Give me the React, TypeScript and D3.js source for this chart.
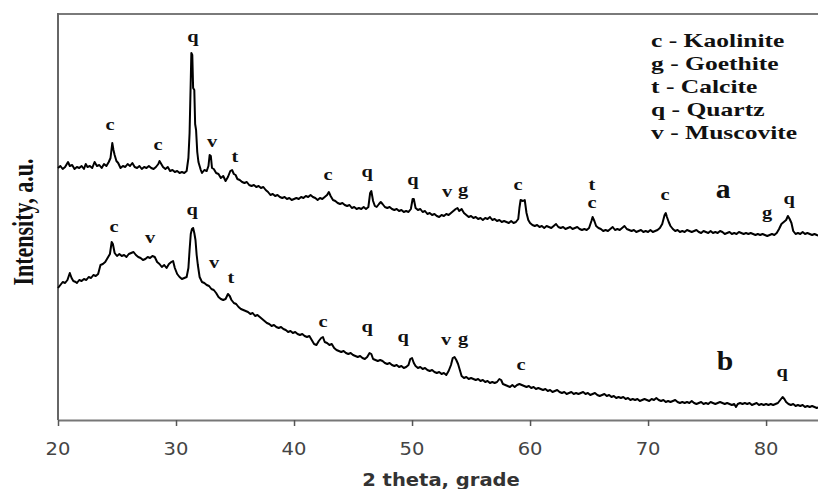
import React, { useEffect, useRef } from 'react';
import * as d3 from 'd3';

// pattern a (upper curve), [2theta, intensity a.u.]
const traceA: [number, number][] = [
  [20.0, 252], [20.2, 254], [20.4, 251], [20.6, 253], [20.85, 258], [21.0, 254], [21.2, 255], [21.4, 251],
  [21.6, 253], [21.8, 252], [22.0, 254], [22.2, 251], [22.35, 256], [22.5, 253], [22.7, 254], [22.9, 252],
  [23.1, 258], [23.3, 254], [23.5, 255], [23.7, 252], [23.9, 256], [24.1, 254], [24.3, 258], [24.45, 262],
  [24.6, 277], [24.7, 270], [24.8, 265], [24.95, 259], [25.1, 257], [25.3, 252], [25.5, 254], [25.7, 253],
  [25.9, 256], [26.1, 254], [26.3, 257], [26.5, 253], [26.7, 252], [26.9, 254], [27.1, 251], [27.3, 253],
  [27.5, 252], [27.7, 254], [27.9, 252], [28.1, 251], [28.3, 253], [28.5, 256], [28.6, 259], [28.75, 256],
  [28.9, 253], [29.1, 251], [29.3, 253], [29.5, 249], [29.7, 250], [29.9, 248], [30.1, 249], [30.3, 247],
  [30.5, 248], [30.7, 247], [30.9, 249], [31.05, 262], [31.15, 287], [31.25, 340], [31.3, 367], [31.38, 365],
  [31.45, 332], [31.55, 330], [31.62, 296], [31.7, 290], [31.8, 268], [31.9, 258], [32.0, 254], [32.1, 250],
  [32.2, 247], [32.4, 250], [32.6, 249], [32.75, 254], [32.85, 265], [32.95, 264], [33.05, 252], [33.2, 251],
  [33.4, 247], [33.6, 246], [33.8, 242], [34.0, 244], [34.2, 239], [34.4, 243], [34.6, 249], [34.75, 250],
  [34.9, 246], [35.05, 245], [35.2, 241], [35.4, 240], [35.6, 238], [35.8, 237], [36.0, 238], [36.2, 235],
  [36.4, 234], [36.6, 235], [36.8, 233], [37.0, 234], [37.2, 232], [37.4, 233], [37.6, 230], [37.8, 228],
  [38.0, 225], [38.2, 226], [38.4, 224], [38.6, 225], [38.8, 223], [39.0, 222], [39.2, 223], [39.4, 221],
  [39.6, 222], [39.8, 220], [40.0, 221], [40.2, 222], [40.4, 221], [40.6, 223], [40.8, 222], [41.0, 224],
  [41.2, 223], [41.4, 225], [41.6, 223], [41.8, 222], [42.0, 220], [42.2, 222], [42.4, 221], [42.6, 223],
  [42.8, 225], [42.95, 228], [43.1, 224], [43.3, 220], [43.5, 219], [43.7, 217], [43.9, 216], [44.1, 217],
  [44.3, 215], [44.5, 214], [44.7, 215], [44.9, 212], [45.1, 213], [45.3, 211], [45.5, 212], [45.7, 211],
  [45.9, 213], [46.1, 211], [46.3, 213], [46.45, 227], [46.55, 229], [46.7, 219], [46.85, 214], [47.0, 213],
  [47.2, 216], [47.35, 218], [47.5, 216], [47.7, 213], [47.9, 212], [48.1, 213], [48.3, 211], [48.5, 210],
  [48.7, 211], [48.9, 209], [49.1, 210], [49.3, 208], [49.5, 209], [49.7, 208], [49.9, 211], [50.05, 221],
  [50.15, 221], [50.3, 212], [50.5, 210], [50.7, 211], [50.9, 208], [51.1, 209], [51.3, 206], [51.5, 207],
  [51.7, 205], [51.9, 206], [52.1, 204], [52.3, 203], [52.5, 205], [52.7, 204], [52.9, 206], [53.1, 205],
  [53.3, 207], [53.5, 209], [53.7, 211], [53.85, 212], [54.0, 209], [54.2, 211], [54.4, 207], [54.6, 205],
  [54.8, 203], [55.0, 204], [55.2, 202], [55.4, 203], [55.6, 201], [55.8, 202], [56.0, 200], [56.2, 202],
  [56.4, 201], [56.6, 203], [56.8, 200], [57.0, 201], [57.2, 199], [57.4, 200], [57.6, 198], [57.8, 199],
  [58.0, 198], [58.2, 197], [58.4, 199], [58.6, 197], [58.8, 198], [59.0, 201], [59.1, 212], [59.2, 220],
  [59.4, 219], [59.55, 220], [59.7, 207], [59.85, 200], [60.0, 197], [60.2, 195], [60.4, 194], [60.6, 195],
  [60.8, 193], [61.0, 194], [61.2, 192], [61.4, 194], [61.6, 193], [61.8, 192], [62.0, 194], [62.2, 196],
  [62.4, 193], [62.6, 192], [62.8, 193], [63.0, 191], [63.2, 192], [63.4, 193], [63.6, 191], [63.8, 192],
  [64.0, 193], [64.2, 191], [64.4, 190], [64.6, 191], [64.8, 190], [65.0, 192], [65.2, 199], [65.3, 203],
  [65.45, 199], [65.6, 194], [65.8, 192], [66.0, 191], [66.2, 189], [66.4, 190], [66.6, 189], [66.8, 191],
  [67.0, 193], [67.2, 190], [67.4, 191], [67.6, 190], [67.8, 192], [68.0, 194], [68.2, 191], [68.4, 190],
  [68.6, 189], [68.8, 190], [69.0, 188], [69.2, 189], [69.4, 190], [69.6, 188], [69.8, 189], [70.0, 188],
  [70.2, 190], [70.4, 188], [70.6, 189], [70.8, 190], [71.0, 192], [71.2, 196], [71.4, 205], [71.5, 207],
  [71.6, 203], [71.75, 198], [71.9, 194], [72.1, 191], [72.3, 189], [72.5, 190], [72.7, 188], [72.9, 189],
  [73.1, 188], [73.3, 190], [73.5, 189], [73.7, 188], [73.9, 189], [74.1, 190], [74.3, 188], [74.5, 187],
  [74.7, 189], [74.9, 188], [75.1, 187], [75.3, 189], [75.5, 187], [75.7, 188], [75.9, 187], [76.1, 189],
  [76.3, 188], [76.5, 186], [76.7, 187], [76.9, 188], [77.1, 186], [77.3, 187], [77.5, 186], [77.7, 188],
  [77.9, 187], [78.1, 186], [78.3, 187], [78.5, 186], [78.7, 187], [78.9, 186], [79.1, 185], [79.3, 186],
  [79.5, 185], [79.7, 186], [79.9, 185], [80.1, 184], [80.3, 185], [80.5, 186], [80.7, 185], [80.9, 187],
  [81.1, 191], [81.3, 196], [81.5, 198], [81.7, 200], [81.85, 204], [82.0, 201], [82.15, 197], [82.3, 189],
  [82.5, 186], [82.7, 187], [82.9, 186], [83.1, 188], [83.3, 186], [83.5, 187], [83.7, 186], [83.9, 185],
  [84.1, 186], [84.3, 185], [84.5, 184],
];

// pattern b (lower curve)
const traceB: [number, number][] = [
  [20.0, 132], [20.2, 135], [20.4, 138], [20.6, 137], [20.8, 140], [21.0, 147], [21.15, 142], [21.3, 139],
  [21.5, 138], [21.6, 137], [21.8, 140], [22.0, 139], [22.2, 141], [22.4, 140], [22.6, 143], [22.8, 142],
  [23.0, 145], [23.2, 144], [23.4, 146], [23.6, 155], [23.8, 156], [24.0, 158], [24.2, 162], [24.4, 166],
  [24.55, 178], [24.65, 176], [24.8, 167], [25.0, 164], [25.2, 166], [25.4, 164], [25.6, 165], [25.8, 163],
  [26.0, 166], [26.2, 167], [26.4, 168], [26.6, 165], [26.8, 163], [27.0, 162], [27.2, 160], [27.4, 161],
  [27.6, 163], [27.8, 162], [28.0, 164], [28.2, 163], [28.4, 158], [28.6, 156], [28.8, 153], [29.0, 155],
  [29.2, 152], [29.4, 156], [29.6, 158], [29.75, 159], [29.9, 152], [30.1, 146], [30.3, 143], [30.5, 141],
  [30.7, 142], [30.9, 143], [31.05, 152], [31.15, 170], [31.25, 186], [31.35, 191], [31.45, 192], [31.55, 187],
  [31.65, 180], [31.75, 165], [31.85, 155], [32.0, 143], [32.2, 138], [32.4, 137], [32.6, 135], [32.8, 134],
  [33.0, 131], [33.2, 130], [33.4, 127], [33.6, 123], [33.8, 121], [34.0, 120], [34.2, 121], [34.4, 126],
  [34.55, 124], [34.7, 120], [34.9, 117], [35.1, 116], [35.3, 113], [35.5, 111], [35.7, 110], [35.9, 109],
  [36.1, 108], [36.3, 106], [36.5, 107], [36.7, 104], [36.9, 105], [37.1, 103], [37.3, 101], [37.5, 99],
  [37.7, 97], [37.9, 96], [38.1, 94], [38.3, 95], [38.5, 93], [38.7, 92], [38.9, 93], [39.1, 91],
  [39.3, 90], [39.5, 88], [39.7, 89], [39.9, 87], [40.1, 88], [40.3, 86], [40.5, 85], [40.7, 86],
  [40.9, 84], [41.1, 83], [41.3, 84], [41.5, 80], [41.7, 76], [41.9, 75], [42.1, 79], [42.3, 82],
  [42.45, 83], [42.6, 78], [42.8, 77], [43.0, 75], [43.2, 76], [43.4, 72], [43.6, 70], [43.8, 69],
  [44.0, 68], [44.2, 69], [44.4, 67], [44.6, 66], [44.8, 67], [45.0, 65], [45.2, 64], [45.4, 63],
  [45.6, 64], [45.8, 62], [46.0, 61], [46.2, 63], [46.4, 67], [46.55, 66], [46.7, 61], [46.9, 60],
  [47.1, 59], [47.3, 60], [47.5, 59], [47.7, 57], [47.9, 56], [48.1, 57], [48.3, 55], [48.5, 54],
  [48.7, 55], [48.9, 53], [49.1, 54], [49.3, 52], [49.5, 53], [49.7, 55], [49.85, 61], [50.0, 62],
  [50.15, 57], [50.3, 54], [50.5, 52], [50.7, 53], [50.9, 51], [51.1, 52], [51.3, 50], [51.5, 49],
  [51.7, 50], [51.9, 48], [52.1, 47], [52.3, 48], [52.5, 46], [52.7, 47], [52.9, 45], [53.1, 49],
  [53.3, 55], [53.45, 62], [53.6, 63], [53.75, 60], [53.9, 56], [54.05, 50], [54.2, 44], [54.4, 42],
  [54.6, 43], [54.8, 41], [55.0, 42], [55.2, 41], [55.4, 40], [55.6, 41], [55.8, 39], [56.0, 40],
  [56.2, 38], [56.4, 39], [56.6, 37], [56.8, 38], [57.0, 37], [57.2, 38], [57.4, 41], [57.55, 40],
  [57.7, 36], [57.9, 35], [58.1, 34], [58.3, 33], [58.5, 35], [58.7, 33], [58.9, 35], [59.1, 36],
  [59.3, 35], [59.5, 34], [59.7, 33], [59.9, 34], [60.1, 32], [60.3, 33], [60.5, 31], [60.7, 32],
  [60.9, 31], [61.1, 30], [61.3, 31], [61.5, 29], [61.7, 30], [61.9, 28], [62.1, 29], [62.3, 30],
  [62.5, 28], [62.7, 27], [62.9, 28], [63.1, 26], [63.3, 27], [63.5, 28], [63.7, 26], [63.9, 27],
  [64.1, 26], [64.3, 27], [64.5, 28], [64.7, 26], [64.9, 27], [65.1, 25], [65.3, 26], [65.5, 27],
  [65.7, 25], [65.9, 24], [66.1, 25], [66.3, 26], [66.5, 24], [66.7, 25], [66.9, 23], [67.1, 24],
  [67.3, 22], [67.5, 23], [67.7, 22], [67.9, 23], [68.1, 21], [68.3, 22], [68.5, 20], [68.7, 21],
  [68.9, 20], [69.1, 21], [69.3, 19], [69.5, 20], [69.7, 21], [69.9, 20], [70.1, 19], [70.3, 21],
  [70.5, 20], [70.7, 22], [70.9, 20], [71.1, 19], [71.3, 20], [71.5, 18], [71.7, 19], [71.9, 18],
  [72.1, 19], [72.3, 20], [72.5, 18], [72.7, 17], [72.9, 18], [73.1, 17], [73.3, 18], [73.5, 17],
  [73.7, 19], [73.9, 17], [74.1, 16], [74.3, 17], [74.5, 18], [74.7, 16], [74.9, 17], [75.1, 16],
  [75.3, 18], [75.5, 17], [75.7, 16], [75.9, 17], [76.1, 18], [76.3, 17], [76.5, 16], [76.7, 17],
  [76.9, 16], [77.1, 15], [77.3, 16], [77.45, 13], [77.6, 16], [77.8, 17], [78.0, 16], [78.2, 17],
  [78.4, 16], [78.6, 17], [78.8, 15], [79.0, 16], [79.2, 17], [79.4, 15], [79.6, 16], [79.8, 15],
  [80.0, 16], [80.2, 15], [80.4, 16], [80.6, 15], [80.8, 16], [81.0, 17], [81.2, 20], [81.4, 23],
  [81.55, 21], [81.7, 18], [81.9, 16], [82.1, 15], [82.3, 16], [82.5, 14], [82.7, 15], [82.9, 14],
  [83.1, 15], [83.3, 13], [83.5, 14], [83.7, 13], [83.9, 14], [84.1, 13], [84.3, 12], [84.5, 13],
];

// peak letters [letter, 2theta, intensity]
const peaksA: [string, number, number][] = [
  ['c', 24.41, 295], ['c', 28.47, 275], ['q', 31.44, 383], ['v', 33.05, 278], ['t', 35.0, 263],
  ['c', 42.88, 245], ['q', 46.19, 248], ['q', 50.08, 240], ['v', 52.97, 228], ['g', 54.32, 230],
  ['c', 58.98, 235], ['t', 65.25, 235], ['c', 65.25, 217], ['c', 71.44, 225], ['g', 80.08, 207],
  ['q', 81.95, 221],
];
const peaksB: [string, number, number][] = [
  ['c', 24.75, 193], ['v', 27.8, 182], ['q', 31.36, 210], ['v', 33.22, 157], ['t', 34.66, 142],
  ['c', 42.46, 98], ['q', 46.19, 93], ['q', 49.24, 83], ['v', 52.88, 80], ['g', 54.32, 81],
  ['c', 59.24, 55], ['q', 81.36, 48],
];
const curveNames: [string, number, number][] = [['a', 76.36, 230], ['b', 76.53, 58]];

const legendItems = ['c - Kaolinite', 'g - Goethite', 't - Calcite', 'q - Quartz', 'v - Muscovite'];
const xTicks = [20, 30, 40, 50, 60, 70, 80];

export default function App() {
  const ref = useRef<SVGSVGElement>(null);

  useEffect(() => {
    const svg = d3.select(ref.current);
    svg.selectAll('*').remove();

    const left = 58, right = 818, top = 14, bottom = 420;
    const x = d3.scaleLinear().domain([20, 84.4]).range([left, right]);
    const y = d3.scaleLinear().domain([0, 406]).range([bottom, top]);

    const serif = '"Liberation Serif", "Times New Roman", serif';
    const sans = '"DejaVu Sans", Verdana, sans-serif';

    // frame
    svg.append('line').attr('x1', left).attr('x2', 820).attr('y1', top).attr('y2', top)
      .attr('stroke', '#7a7a7a').attr('stroke-width', 2);
    svg.append('line').attr('x1', left).attr('x2', left).attr('y1', top - 1).attr('y2', bottom)
      .attr('stroke', '#666').attr('stroke-width', 2);

    // x axis
    const xAxis = svg.append('g').attr('transform', `translate(0,${bottom})`)
      .call(d3.axisBottom(x).tickValues(xTicks).tickSize(6).tickSizeOuter(0).tickFormat(() => ''));
    xAxis.select('.domain').attr('stroke', '#777').attr('stroke-width', 2);
    xAxis.selectAll('.tick line').attr('stroke', '#555').attr('stroke-width', 1.5);

    xTicks.forEach(t => {
      svg.append('text')
        .attr('transform', `translate(${x(t)},455) scale(1.15,1)`)
        .attr('text-anchor', 'middle').attr('font-family', sans).attr('font-size', 17)
        .attr('fill', '#444').text(t);
    });

    svg.append('text')
      .attr('transform', `translate(441,486) scale(1.15,1)`)
      .attr('text-anchor', 'middle').attr('font-family', sans).attr('font-weight', 'bold')
      .attr('font-size', 17).attr('fill', '#333').text('2 theta, grade');

    svg.append('text')
      .attr('transform', `translate(23,222) scale(1.3,1) rotate(-90)`)
      .attr('text-anchor', 'middle').attr('dominant-baseline', 'central')
      .attr('font-family', serif).attr('font-weight', 'bold').attr('font-size', 22)
      .attr('fill', '#111').text('Intensity, a.u.');

    // traces
    const line = d3.line<[number, number]>().x(d => x(d[0])).y(d => y(d[1]));
    [traceA, traceB].forEach(tr => {
      svg.append('path').datum(tr).attr('d', line).attr('fill', 'none')
        .attr('stroke', '#000').attr('stroke-width', 2).attr('stroke-linejoin', 'round');
    });

    // peak labels
    [...peaksA, ...peaksB].forEach(([s, px, py]) => {
      svg.append('text')
        .attr('transform', `translate(${x(px)},${y(py)}) scale(1.2,1)`)
        .attr('text-anchor', 'middle').attr('dy', '0.3em')
        .attr('font-family', serif).attr('font-weight', 'bold').attr('font-size', 17)
        .attr('fill', '#111').text(s);
    });
    curveNames.forEach(([s, px, py]) => {
      svg.append('text')
        .attr('transform', `translate(${x(px)},${y(py)}) scale(1.1,1)`)
        .attr('text-anchor', 'middle').attr('dy', '0.3em')
        .attr('font-family', serif).attr('font-weight', 'bold').attr('font-size', 27)
        .attr('fill', '#111').text(s);
    });

    // legend
    legendItems.forEach((s, i) => {
      svg.append('text')
        .attr('transform', `translate(651,${41 + i * 23}) scale(1.42,1)`)
        .attr('dy', '0.35em')
        .attr('font-family', serif).attr('font-weight', 'bold').attr('font-size', 18)
        .attr('fill', '#111').text(s);
    });
  }, []);

  return (
    <svg ref={ref} width={818} height={489}
      style={{ position: 'absolute', left: 0, top: 0, background: '#fff' }} />
  );
}
